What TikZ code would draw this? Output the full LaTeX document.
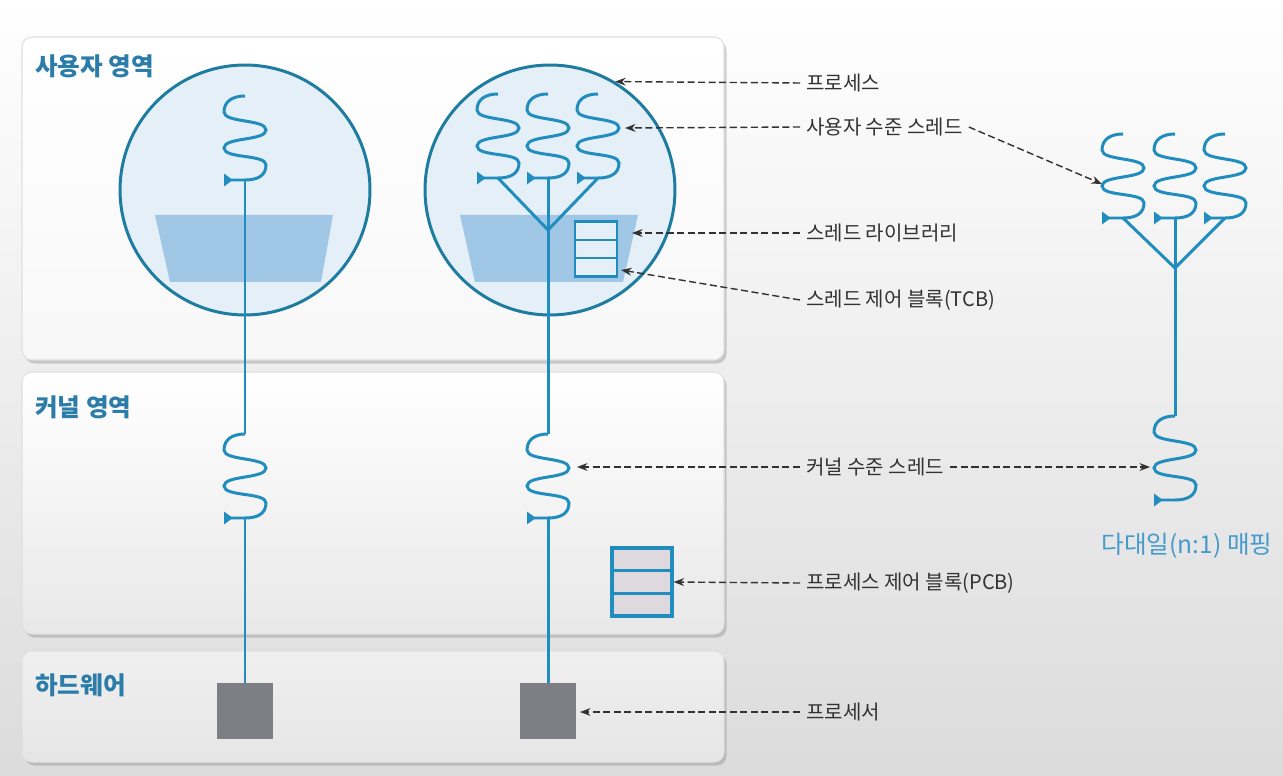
\documentclass[tikz,border=0pt]{standalone}
\usepackage{fontspec}
\setmainfont{Noto Sans CJK KR}
\usetikzlibrary{arrows.meta}
\usetikzlibrary{shapes.multipart}
\usetikzlibrary{shadows}

\definecolor{thr}{RGB}{32,141,190}
\definecolor{ring}{RGB}{30,124,160}
\definecolor{procfill}{RGB}{228,239,248}
\definecolor{libfill}{RGB}{160,200,230}
\definecolor{areatxt}{RGB}{43,124,168}
\definecolor{maptxt}{RGB}{70,155,205}
\definecolor{cpu}{RGB}{125,127,132}
\definecolor{lbl}{RGB}{50,50,50}
\definecolor{pcbfill}{RGB}{222,217,222}

\begin{document}
\begin{tikzpicture}[x=0.02cm, y=-0.02cm,
      tline/.style={thr, line width=1.7pt},
      callout/.style={lbl, line width=0.8pt, dash pattern=on 4pt off 2pt, -{Stealth[length=6pt,width=4.5pt]}},
      note/.style={text=lbl, font=\fontsize{11.4}{13}\selectfont, anchor=west},
      area/.style={text=areatxt, font=\fontsize{14}{16}\selectfont\bfseries, anchor=west},
      panel/.style={rounded corners=0.2cm, draw=black!12, line width=0.6pt, drop shadow={shadow xshift=1.5pt, shadow yshift=-2pt, opacity=0.35}},
      thread/.pic={
        \coordinate (-j) at (0,0);
        \coordinate (-t) at (0,-84);
        \draw[tline, -{Triangle[reversed,length=5pt,width=7pt]}] (0,-84)
          .. controls (-12,-84) and (-21,-79) .. (-21,-68)
          .. controls (-21,-57) and (21,-61) .. (21,-50)
          .. controls (21,-39) and (-21,-43) .. (-21,-32)
          .. controls (-21,-21) and (21,-26) .. (21,-15)
          .. controls (21,-4) and (12,0) .. (0,0) -- (-21,0);
      }
    ]
      \useasboundingbox (0,0) rectangle (1283,776);
      \shade[top color=white, middle color=white, bottom color=black!14] (0,0) rectangle (1283,776);

      \draw[panel, top color=white, bottom color=black!3] (22,37) rectangle (724,360);
      \draw[panel, top color=white, bottom color=black!9] (22,372) rectangle (724,634);
      \draw[panel, top color=black!6, bottom color=black!10] (22,651) rectangle (724,762);

      \node[area] (ua) at (29,66) {사용자 영역};
      \node[area] (ka) at (29,407) {커널 영역};
      \node[area] (ha) at (29,685) {하드웨어};

      \node[circle, draw=ring, fill=procfill, line width=1.7pt, minimum size=5cm, inner sep=0] (p1) at (245,190) {};
      \node[circle, draw=ring, fill=procfill, line width=1.7pt, minimum size=5cm, inner sep=0] (p2) at (550,190) {};

      \fill[libfill] (155,215) -- (333,215) -- (321,282) -- (170,282) -- cycle;
      \fill[libfill] (460,215) -- (638,215) -- (623,282) -- (475,282) -- cycle;

      \node[rectangle split, rectangle split parts=3, draw=thr, line width=1.5pt, fill=procfill,
        minimum width=0.84cm, inner sep=0, rectangle split empty part height=0.31cm,
        rectangle split empty part depth=0pt] (tcb) at (596,249) {};
      \node[rectangle split, rectangle split parts=3, draw=thr, line width=1.8pt, fill=pcbfill,
        minimum width=1.2cm, inner sep=0, rectangle split empty part height=0.39cm,
        rectangle split empty part depth=0pt] (pcb) at (642,582) {};

      \node[fill=cpu, minimum size=1.12cm, inner sep=0] (cpu1) at (245,711) {};
      \node[fill=cpu, minimum size=1.12cm, inner sep=0] (cpu2) at (548,711) {};

      \pic (ut1) at (245,180) {thread};
      \pic (ut2) at (498,178) {thread};
      \pic (ut3) at (548,178) {thread};
      \pic (ut4) at (598,178) {thread};
      \pic (kt1) at (245,518) {thread};
      \pic (kt2) at (548,518) {thread};

      \pic (mt1) at (1123,218) {thread};
      \pic (mt2) at (1175,218) {thread};
      \pic (mt3) at (1225,218) {thread};
      \pic (mk) at (1175,500) {thread};

      \coordinate (y2) at (548,230);
      \coordinate (y3) at (1175,268);

      \draw[tline] (ut1-j) -- (kt1-t);
      \draw[tline] (kt1-j) -- (cpu1.north);
      \draw[tline] (ut2-j) -- (y2);
      \draw[tline] (ut4-j) -- (y2);
      \draw[tline] (ut3-j) -- (kt2-t);
      \draw[tline] (kt2-j) -- (cpu2.north);
      \draw[tline] (mt1-j) -- (y3);
      \draw[tline] (mt3-j) -- (y3);
      \draw[tline] (mt2-j) -- (mk-t);

      \node[note] (lproc) at (800,83) {프로세스};
      \node[note] (lut) at (800,127) {사용자 수준 스레드};
      \node[note] (llib) at (800,233) {스레드 라이브러리};
      \node[note] (ltcb) at (800,300) {스레드 제어 블록(TCB)};
      \node[note] (lkt) at (800,467) {커널 수준 스레드};
      \node[note] (lpcb) at (800,583) {프로세스 제어 블록(PCB)};
      \node[note] (lcpu) at (800,712) {프로세서};
      \node[text=maptxt, font=\fontsize{14}{16}\selectfont] (lmap) at (1187,546) {다대일(n:1) 매핑};

      \coordinate (tut) at (625,128);
      \coordinate (tlib) at (632,233);
      \coordinate (ttcb) at (621,270);
      \coordinate (tk1) at (577,467);
      \coordinate (tk2) at (1150,467);
      \coordinate (tmap) at (1102,184);
      \coordinate (tcpu) at (580,712);

      \draw[callout] (lproc.west) -- (p2.59);
      \draw[callout] (lut.west) -- (tut);
      \draw[callout] (lut.east) -- (tmap);
      \draw[callout] (llib.west) -- (tlib);
      \draw[callout] (ltcb.west) -- (ttcb);
      \draw[callout] (lkt.west) -- (tk1);
      \draw[callout] (lkt.east) -- (tk2);
      \draw[callout] (lpcb.west) -- (pcb.east);
      \draw[callout] (lcpu.west) -- (tcpu);
\end{tikzpicture}
\end{document}
